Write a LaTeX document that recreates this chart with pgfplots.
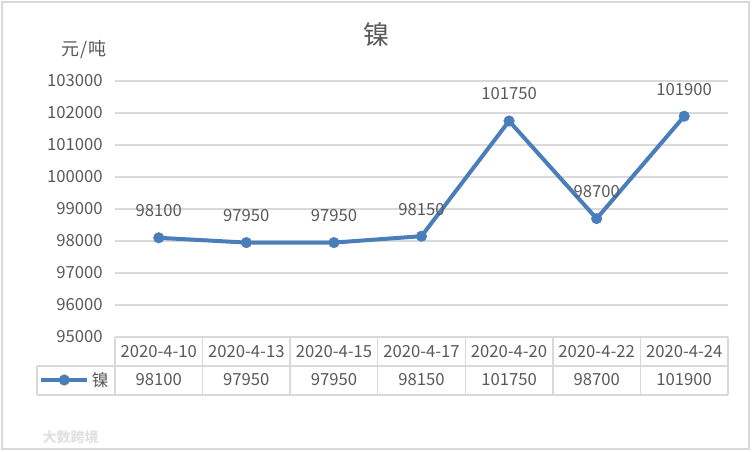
\documentclass[border=0pt]{standalone}
\usepackage{pgfplots}
\pgfplotsset{compat=1.18}
\usepackage{pgfplotstable}
\usepackage{fontspec}
\setmainfont{Noto Sans CJK SC}
\definecolor{lineblue}{HTML}{4A7EBB}
\definecolor{gridgray}{HTML}{D9D9D9}
\definecolor{txt}{HTML}{595959}
\pgfplotstableread{
x date value
0 2020-4-10 98100
1 2020-4-13 97950
2 2020-4-15 97950
3 2020-4-17 98150
4 2020-4-20 101750
5 2020-4-22 98700
6 2020-4-24 101900
}\datatable
\begin{document}
\begin{tikzpicture}
\path[use as bounding box] (0,0) rectangle (564pt,339pt);
\begin{scope}[shift={(0pt,339pt)}, x=0.75pt, y=-0.75pt]
  \draw[gridgray, line width=1.5pt] (2,2) rectangle (749,449);
  \node[txt, font=\fontsize{19.5pt}{22pt}\selectfont] at (376,35) {镍};
  \node[txt, font=\fontsize{13.5pt}{15pt}\selectfont] at (84,50) {元\hspace{1pt}/\hspace{1pt}吨};
  \node[gridgray!80!white, font=\fontsize{10.5pt}{12pt}\selectfont\bfseries, anchor=west] at (38,437) {大数跨境};
\end{scope}
\begin{axis}[
  at={(86.25pt,86.25pt)}, anchor=south west,
  scale only axis, width=459.75pt, height=192pt,
  xmin=-0.5, xmax=6.5, ymin=95000, ymax=103000,
  ytick={95000,96000,97000,98000,99000,100000,101000,102000,103000},
  yticklabels={95000,96000,97000,98000,99000,100000,101000,102000,103000},
  xtick={0,...,6},
  xticklabels from table={\datatable}{date},
  ymajorgrids, grid style={gridgray, line width=1.1pt},
  axis line style={draw=none},
  tick style={draw=none}, major tick length=0pt,
  scaled ticks=false,
  tick label style={txt, font=\fontsize{12.5pt}{14pt}\selectfont},
  yticklabel style={anchor=east, inner sep=0pt, xshift=-9pt},
  xticklabel style={anchor=center, inner sep=0pt, yshift=-11pt},
  clip=false,
  legend style={at={(-0.124,-0.168)}, anchor=west, draw=none, fill=none, inner sep=0pt,
    font=\fontsize{12.5pt}{14pt}\selectfont, text=txt},
  legend image code/.code={\draw[#1, mark repeat=2, mark phase=2] plot coordinates {(0pt,0pt) (17.25pt,0pt) (34.5pt,0pt)};},
]
\addplot[lineblue, line width=3pt, mark=*, mark size=4pt, mark options={solid, fill=lineblue, draw=lineblue, line width=0.3pt},
  nodes near coords, point meta=explicit symbolic,
  nodes near coords align={center},
  every node near coord/.append style={anchor=center, yshift=20.25pt, txt, font=\fontsize{12.5pt}{14pt}\selectfont}]
  table[x=x, y=value, meta=value] {\datatable};
\addlegendentry{镍}
\addplot[draw=none, mark=none, forget plot,
  nodes near coords, point meta=explicit symbolic,
  nodes near coords align={center},
  every node near coord/.append style={anchor=center, yshift=-32.25pt, txt, font=\fontsize{12.5pt}{14pt}\selectfont}]
  table[x=x, y expr=95000, meta=value] {\datatable};
\end{axis}
\begin{scope}[shift={(0pt,339pt)}, x=0.75pt, y=-0.75pt]
  \draw[gridgray, line width=1.1pt] (37,366) -- (728,366);
  \draw[gridgray, line width=1.1pt] (37,395) -- (728,395);
  \draw[gridgray, line width=1.1pt] (37,366) -- (37,395);
  \foreach \i in {0,...,7} {
    \draw[gridgray, line width=1.1pt] ({115+\i*613/7},337) -- ({115+\i*613/7},395);
  }
\end{scope}
\end{tikzpicture}
\end{document}
